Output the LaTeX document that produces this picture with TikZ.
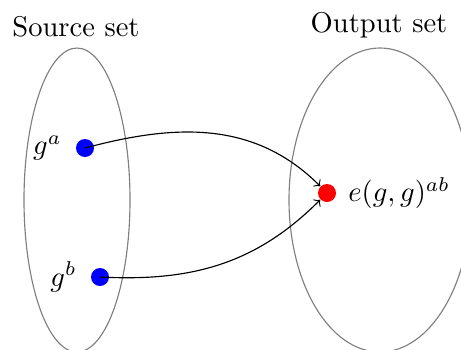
\documentclass[tikz,border=0pt]{standalone}
\begin{document}
\begin{tikzpicture}[x=0.35pt,y=0.35pt,
  setellipse/.style={draw=gray, line width=0.4pt},
  dot/.style={circle, inner sep=0pt, minimum size=6.3pt},
  conn/.style={->, line width=0.4pt}]
\useasboundingbox (0,0) rectangle (461,349);
\begin{scope}
\clip (0,0) rectangle (461,349);
\draw[setellipse] (77,149) ellipse [x radius=53, y radius=152];
\draw[setellipse] (380,149) ellipse [x radius=91, y radius=152];
\end{scope}
\node (src) at (76,322) {Source set};
\node (out) at (379,324) {Output set};
\node[dot, fill=blue] (a) at (85,201) {};
\node[dot, fill=blue] (b) at (100,72) {};
\node[dot, fill=red] (r) at (327,156) {};
\node[anchor=east] (la) at ([xshift=-1.3pt]a.west) {$g^a$};
\node[anchor=east] (lb) at ([xshift=-1.3pt]b.west) {$g^b$};
\node[anchor=west] (lr) at ([xshift=0.6pt]r.east) {$e(g,g)^{ab}$};
\draw[conn] (a.center) to[out=15,in=135] (r);
\draw[conn] (b.center) to[out=-3,in=225] (r);
\end{tikzpicture}
\end{document}
